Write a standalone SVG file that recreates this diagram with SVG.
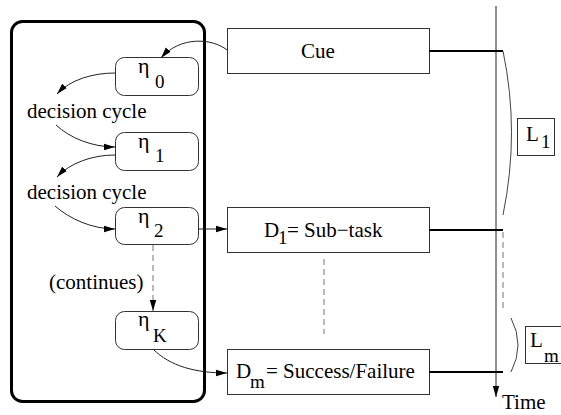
<svg xmlns="http://www.w3.org/2000/svg" width="561" height="415" viewBox="0 0 561 415" font-family="'Liberation Serif', 'DejaVu Serif', serif">
<defs>
<marker id="ah" markerUnits="userSpaceOnUse" markerWidth="12" markerHeight="8" refX="11" refY="4" orient="auto">
<path d="M0,0.8 L11,4 L0,7.2 Z" fill="#000"/>
</marker>
<style>
text{font-family:'Liberation Serif', 'DejaVu Serif', serif;fill:#000}
.t{font-size:21px}
.g{font-size:22px}
.s{font-size:19px}
.box{fill:#fff;stroke:#333;stroke-width:1}
.eta{fill:#fff;stroke:#333;stroke-width:1}
.c{fill:none;stroke:#222;stroke-width:1}
.d{fill:none;stroke:#777;stroke-width:1;stroke-dasharray:6,4}
.thick{fill:none;stroke:#000;stroke-width:2}
.arc{fill:none;stroke:#444;stroke-width:1}
</style>
</defs>
<rect x="11.5" y="21.5" width="193" height="380" rx="11" fill="none" stroke="#000" stroke-width="3"/>
<g id="eta0"><rect class="eta" x="115.5" y="57.5" width="83" height="38" rx="9"/><text class="g" x="138" y="73">η</text><text class="s" x="155" y="88">0</text></g>
<g id="eta1"><rect class="eta" x="115.5" y="132.5" width="83" height="38" rx="9"/><text class="g" x="138" y="148">η</text><text class="s" x="155" y="162">1</text></g>
<g id="eta2"><rect class="eta" x="115.5" y="207.5" width="83" height="37" rx="9"/><text class="g" x="138" y="223">η</text><text class="s" x="154" y="237">2</text></g>
<g id="etaK"><rect class="eta" x="115.5" y="311.5" width="83" height="38" rx="9"/><text class="g" x="138" y="326">η</text><text class="s" x="153" y="342">K</text></g>
<g id="labels">
<text class="t" x="27" y="118">decision cycle</text>
<text class="t" x="27" y="199">decision cycle</text>
<text class="t" x="49" y="289">(continues)</text>
</g>
<g id="cue"><rect class="box" x="227.5" y="28.5" width="202" height="45"/><text class="t" x="318" y="58" text-anchor="middle">Cue</text></g>
<g id="d1"><rect class="box" x="227.5" y="207.5" width="202" height="45"/><text class="t" x="264" y="237">D</text><text class="s" x="278" y="244">1</text><text class="t" x="287" y="237">= Sub−task</text></g>
<g id="dm"><rect class="box" x="227.5" y="349.5" width="202" height="45"/><text class="t" x="236" y="378">D</text><text class="s" x="250" y="388">m</text><text class="t" x="266" y="378">= Success/Failure</text></g>
<g id="l1"><rect class="box" x="517.5" y="118.5" width="37" height="37"/><text class="t" x="526" y="141">L</text><text class="s" x="541" y="148">1</text></g>
<g id="lm"><rect class="box" x="525.5" y="326.5" width="40" height="37"/><text class="t" x="530" y="347">L</text><text class="s" x="544" y="362">m</text></g>
<g id="connectors">
<path class="c" d="M227,50 C212,38 180,36 161,58" marker-end="url(#ah)"/>
<path class="c" d="M115,73 C92,73 70,80 57,94" marker-end="url(#ah)"/>
<path class="c" d="M56,125 C70,138 92,147 115,147" marker-end="url(#ah)"/>
<path class="c" d="M115,155 C92,155 70,163 57,177" marker-end="url(#ah)"/>
<path class="c" d="M55,206 C70,219 92,229 115,229" marker-end="url(#ah)"/>
<path class="c" d="M198,229 L227,229" marker-end="url(#ah)"/>
<path class="d" d="M153,245 L153,311" marker-end="url(#ah)"/>
<path class="c" d="M153,349 C170,366 195,373 227,373" marker-end="url(#ah)"/>
<path class="d" d="M324,259 L324,334"/>
<path class="c" d="M496,6 L496,397" marker-end="url(#ah)"/>
<path class="thick" d="M429,51 L503,51"/>
<path class="thick" d="M429,230 L503,230"/>
<path class="thick" d="M429,372 L503,372"/>
<path class="arc" d="M503,51 Q520,132 503,215"/>
<path class="d" d="M503,232 L503,312"/>
<path class="arc" d="M511,318 Q525,345 511,372"/>
</g>
<text class="t" x="502" y="409">Time</text>
</svg>
